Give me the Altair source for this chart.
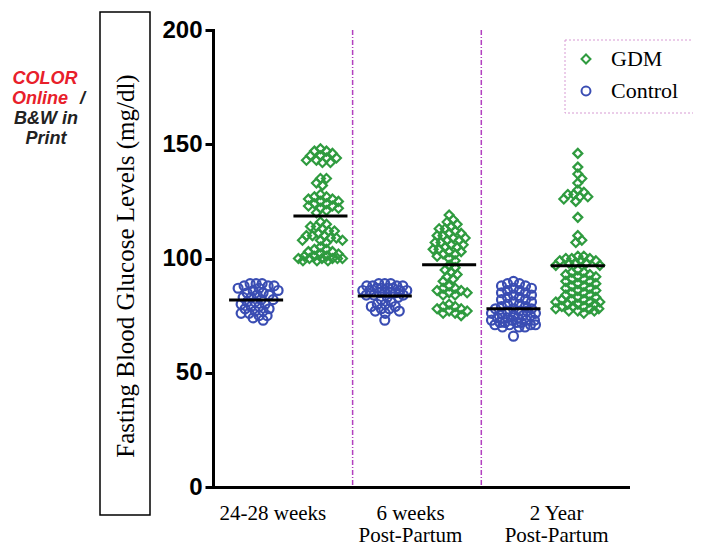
import altair as alt
import pandas as pd

# ---------------- data ----------------
groups = ["24-28 weeks", "6 weeks Post-Partum", "2 Year Post-Partum"]
label_line1 = ["24-28 weeks", "6 weeks", "2 Year"]
label_line2 = ["", "Post-Partum", "Post-Partum"]
series_names = ["GDM", "Control"]

control_2428 = [89, 89, 89, 88, 88, 88, 87, 87, 86, 86, 85, 85, 84, 84, 83, 83, 82, 82,
                81, 81, 80, 80, 79, 79, 78, 78, 77, 77, 76, 76, 75, 75, 74, 73]
gdm_2428 = [148, 147, 147, 146, 145, 145, 144, 144, 143, 143, 142, 142,
            135, 133, 132, 135,
            128, 127, 127, 126, 126, 125, 125, 124, 124, 123, 123, 122, 122, 121, 120,
            116, 115, 114, 113, 112, 111, 110, 110, 109, 108, 108, 107, 108, 110, 112, 114, 109,
            105, 104, 103, 102, 101, 101, 100, 100, 100, 100, 99, 99, 100, 101, 102, 103, 104, 99, 100]
control_6wk = [89, 89, 89, 88, 88, 88, 88, 87, 87, 87, 87, 86, 86, 86, 86, 85, 85, 85, 85,
               84, 84, 84, 83, 83, 82, 81, 80, 80, 79, 79, 78, 78, 77, 77, 76, 73]
gdm_6wk = [119, 117, 116, 115, 114, 113, 113, 112, 111, 111, 110, 110,
           109, 109, 108, 108, 107, 107, 106, 106, 105, 105, 104, 104, 103, 103, 102, 102, 101, 100,
           99, 97, 96, 95, 94, 93, 92, 91, 90,
           88, 87, 86, 85, 84, 84, 85, 86, 87,
           80, 79, 78, 77, 76, 75, 76, 77, 78, 79]
control_2yr = [90, 89, 89, 88, 88, 87, 87, 86, 86, 85, 85, 84, 84, 83, 83, 82, 82, 81, 81, 80, 80,
               79, 79, 78, 78, 77, 77, 76, 76, 75, 75, 74, 74, 73, 73, 72, 72, 71, 71, 70, 66,
               78, 77, 76, 75, 74, 73, 72, 71, 70, 70, 72, 71, 73, 74]
gdm_2yr = [146, 140, 137, 135, 133, 130, 129, 128, 128, 127, 127, 126, 125, 118, 110, 107, 108,
           101, 101, 100, 100, 100, 99, 99, 99, 98, 98, 98, 97, 97,
           95, 94, 93, 93, 92, 91, 90, 90, 89, 88, 88, 87, 86, 85, 84, 83,
           94, 92, 91, 89, 87, 86, 85, 84, 83, 82, 82, 81, 80,
           81, 80, 79, 78, 77, 77, 76, 77, 78, 79, 78, 79, 80, 81, 82]

y_ticks = [0, 50, 100, 150, 200]
y_title = "Fasting Blood Glucose Levels (mg/dl)"

# ---------------- layout helpers ----------------
W, H = 415, 457
X_MAX = 6.45
PX_PER_U = W / X_MAX
PX_PER_V = H / 200.0
FIRST = 0.67

BLUE = "#3a4db3"
GREEN = "#2f9b3f"
PURPLE = "#b23fbf"


def swarm(values, d, cap):
    """Simple beeswarm: horizontal pixel offsets so markers overlap little."""
    placed = []
    offs = []
    cand = [0.0]
    k = 1
    while k * 0.5 <= cap:
        cand += [k * 0.5, -k * 0.5]
        k += 1
    for v in sorted(values, reverse=True):
        y = v * PX_PER_V
        best, best_d = 0.0, -1.0
        for c in cand:
            md = min([((c - px) ** 2 + (y - py) ** 2) for px, py in placed] or [1e9])
            if md >= d * d:
                best = c
                break
            if md > best_d:
                best, best_d = c, md
        placed.append((best, y))
        offs.append((v, best / PX_PER_U))
    return offs


rows = []
sets = [(control_2428, gdm_2428), (control_6wk, gdm_6wk), (control_2yr, gdm_2yr)]
for gi, (ctl, gdm) in enumerate(sets):
    for si, (name, vals) in enumerate([("Control", ctl), ("GDM", gdm)]):
        base = FIRST + 2 * gi + si
        for v, off in swarm(vals, 6.0, 22):
            rows.append({"group": groups[gi], "series": name, "base": base,
                         "x": base + off, "value": v})
df = pd.DataFrame(rows)

dividers = pd.DataFrame({"d": [FIRST + 1.5 + 2 * gi for gi in range(len(groups) - 1)]})
labels = pd.DataFrame({"x": [FIRST + 0.26, FIRST + 2 + 0.4, FIRST + 4 + 0.67],
                       "l1": label_line1, "l2": label_line2})

xs = alt.Scale(domain=[0, X_MAX], nice=False, zero=False)
ys = alt.Scale(domain=[0, 200], nice=False)

points = alt.Chart(df).mark_point(filled=False, strokeWidth=2.2, opacity=1).encode(
    x=alt.X("x:Q", scale=xs,
            axis=alt.Axis(labels=False, ticks=False, title=None, grid=False,
                          domainColor="black", domainWidth=3)),
    y=alt.Y("value:Q", scale=ys,
            axis=alt.Axis(values=y_ticks, title=None, grid=False,
                          labelFont="Liberation Sans", labelFontWeight="bold",
                          labelFontSize=24, labelColor="black", labelPadding=3,
                          tickSize=8, tickWidth=3, tickColor="black",
                          domainColor="black", domainWidth=3)),
    color=alt.Color("series:N",
                    scale=alt.Scale(domain=series_names, range=[GREEN, BLUE]),
                    legend=alt.Legend(title=None, orient="none", legendX=352, legendY=8,
                                      padding=10, rowPadding=10,
                                      labelFont="Liberation Serif", labelFontSize=22,
                                      labelColor="black", labelOffset=14,
                                      symbolSize=80, symbolStrokeWidth=2)),
    shape=alt.Shape("series:N",
                    scale=alt.Scale(domain=series_names, range=["diamond", "circle"]),
                    legend=None),
    size=alt.value(80),
)

means = alt.Chart(df).transform_aggregate(
    m="mean(value)", groupby=["series", "base"]
).transform_calculate(
    x1="datum.base - 0.42", x2="datum.base + 0.42"
).mark_rule(color="black", strokeWidth=3).encode(
    x=alt.X("x1:Q", scale=xs), x2="x2:Q", y=alt.Y("m:Q", scale=ys)
)

divs = alt.Chart(dividers).mark_rule(color=PURPLE, strokeWidth=1.5,
                                     strokeDash=[5, 2, 1, 2]).encode(
    x=alt.X("d:Q", scale=xs)
)

lab1 = alt.Chart(labels).mark_text(font="Liberation Serif", fontSize=21, color="black",
                                   baseline="middle").encode(
    x=alt.X("x:Q", scale=xs), y=alt.value(H + 27), text="l1:N")
lab2 = alt.Chart(labels).mark_text(font="Liberation Serif", fontSize=21, color="black",
                                   baseline="middle").encode(
    x=alt.X("x:Q", scale=xs), y=alt.value(H + 49), text="l2:N")

one = pd.DataFrame({"t": [y_title]})
title_box = alt.Chart(one).mark_rect(filled=False, stroke="black", strokeWidth=1.5).encode(
    x=alt.value(-113), x2=alt.value(-63), y=alt.value(-18), y2=alt.value(485))
title_txt = alt.Chart(one).mark_text(angle=270, font="Liberation Serif", fontSize=25,
                                     color="black", baseline="middle", align="center").encode(
    x=alt.value(-87), y=alt.value(236), text="t:N")
legend_box = alt.Chart(one).mark_rect(filled=False, stroke="#d79ad3", strokeWidth=1,
                                      strokeDash=[2, 2]).encode(
    x=alt.value(352), x2=alt.value(490), y=alt.value(10), y2=alt.value(83))


def note(txt, x, y, color, align="center"):
    return alt.Chart(pd.DataFrame({"t": [txt]})).mark_text(
        font="Liberation Sans", fontWeight="bold", fontStyle="italic", fontSize=18,
        color=color, align=align, baseline="middle").encode(
        x=alt.value(x), y=alt.value(y), text="t:N")


notes = [
    note("COLOR", -168, 49, "#e8202a"),
    note("Online", -201, 69, "#e8202a", "left"),
    note("/", -133, 69, "#222222", "left"),
    note("B&W in", -167, 89, "#222222"),
    note("Print", -167, 109, "#222222"),
]

chart = alt.layer(divs, points, means, lab1, lab2, title_box, title_txt, legend_box,
                  *notes).properties(
    width=W, height=H,
    padding={"left": 205, "top": 22, "right": 65, "bottom": 62},
    autosize=alt.AutoSizeParams(type="none"),
).configure_view(stroke=None).configure_axis(domainCap="square")

chart.save("out.html", embed_options={"renderer": "svg", "actions": False})
